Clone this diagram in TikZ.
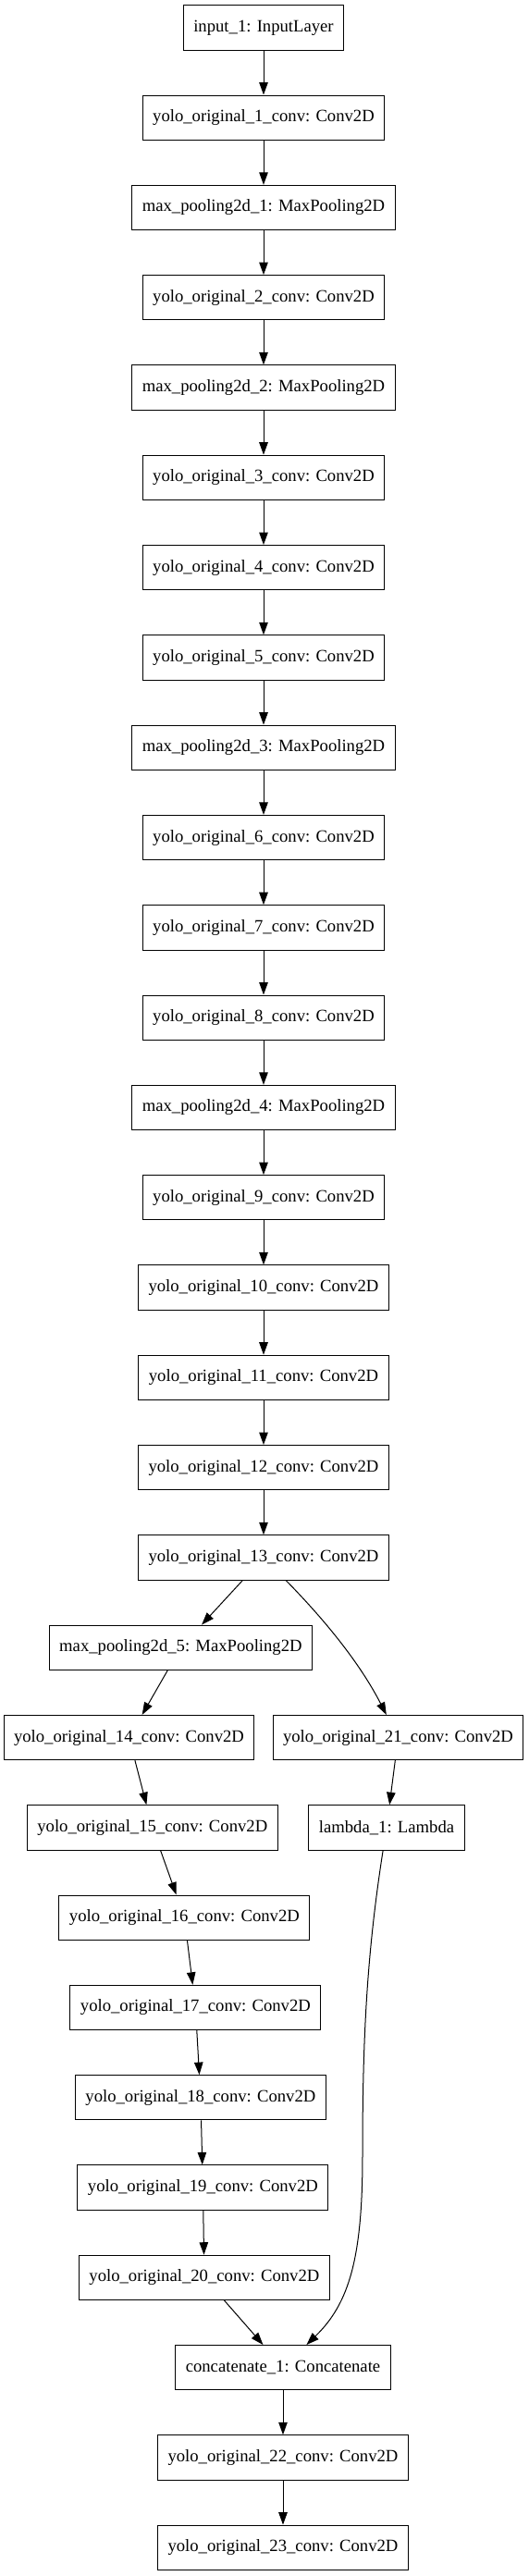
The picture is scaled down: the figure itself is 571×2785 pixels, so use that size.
\documentclass[tikz,border=0pt]{standalone}
\usepackage{fontspec}
\setmainfont{Liberation Serif}
\usepackage{tikz}
\usetikzlibrary{arrows.meta}

\tikzset{
    layer/.style = {draw, line width = 1pt, minimum height = 48.3pt,
        inner xsep = 11pt, inner ysep = 0pt,
        font = \fontsize{18.67pt}{22pt}\selectfont},
    flow/.style = {line width = 1pt,
        -{Triangle[length = 13.5pt, width = 9.5pt]}}
}

\begin{document}
\begin{tikzpicture}[x = 1pt, y = -1pt]
        \useasboundingbox (0, 0) rectangle (571, 2785);

        % main column
        \node[layer] (in1) at (285, 29.85) {input\_1: InputLayer};
        \node[layer] (y1)  at (285, 127.15) {yolo\_original\_1\_conv: Conv2D};
        \node[layer] (mp1) at (285, 224.45) {max\_pooling2d\_1: MaxPooling2D};
        \node[layer] (y2)  at (285, 321.75) {yolo\_original\_2\_conv: Conv2D};
        \node[layer] (mp2) at (285, 419.05) {max\_pooling2d\_2: MaxPooling2D};
        \node[layer] (y3)  at (285, 516.35) {yolo\_original\_3\_conv: Conv2D};
        \node[layer] (y4)  at (285, 613.65) {yolo\_original\_4\_conv: Conv2D};
        \node[layer] (y5)  at (285, 710.95) {yolo\_original\_5\_conv: Conv2D};
        \node[layer] (mp3) at (285, 808.25) {max\_pooling2d\_3: MaxPooling2D};
        \node[layer] (y6)  at (285, 905.55) {yolo\_original\_6\_conv: Conv2D};
        \node[layer] (y7)  at (285, 1002.85) {yolo\_original\_7\_conv: Conv2D};
        \node[layer] (y8)  at (285, 1100.15) {yolo\_original\_8\_conv: Conv2D};
        \node[layer] (mp4) at (285, 1197.45) {max\_pooling2d\_4: MaxPooling2D};
        \node[layer] (y9)  at (285, 1294.75) {yolo\_original\_9\_conv: Conv2D};
        \node[layer] (y10) at (285, 1392.05) {yolo\_original\_10\_conv: Conv2D};
        \node[layer] (y11) at (285, 1489.35) {yolo\_original\_11\_conv: Conv2D};
        \node[layer] (y12) at (285, 1586.65) {yolo\_original\_12\_conv: Conv2D};
        \node[layer] (y13) at (285, 1683.95) {yolo\_original\_13\_conv: Conv2D};

        % left branch
        \node[layer] (mp5) at (195.4, 1781.25) {max\_pooling2d\_5: MaxPooling2D};
        \node[layer] (y14) at (139.5, 1878.55) {yolo\_original\_14\_conv: Conv2D};
        \node[layer] (y15) at (164.8, 1975.85) {yolo\_original\_15\_conv: Conv2D};
        \node[layer] (y16) at (199.4, 2073.15) {yolo\_original\_16\_conv: Conv2D};
        \node[layer] (y17) at (211.4, 2170.45) {yolo\_original\_17\_conv: Conv2D};
        \node[layer] (y18) at (216.9, 2267.75) {yolo\_original\_18\_conv: Conv2D};
        \node[layer] (y19) at (219.4, 2365.05) {yolo\_original\_19\_conv: Conv2D};
        \node[layer] (y20) at (220.9, 2462.35) {yolo\_original\_20\_conv: Conv2D};

        % right branch
        \node[layer] (y21)  at (430.5, 1878.55) {yolo\_original\_21\_conv: Conv2D};
        \node[layer] (lam1) at (418, 1975.85) {lambda\_1: Lambda};

        % merge
        \node[layer] (cat1) at (306, 2559.65) {concatenate\_1: Concatenate};
        \node[layer] (y22)  at (306, 2656.95) {yolo\_original\_22\_conv: Conv2D};
        \node[layer] (y23)  at (306, 2754.25) {yolo\_original\_23\_conv: Conv2D};

        \draw[flow] (in1) -- (y1);
        \draw[flow] (y1) -- (mp1);
        \draw[flow] (mp1) -- (y2);
        \draw[flow] (y2) -- (mp2);
        \draw[flow] (mp2) -- (y3);
        \draw[flow] (y3) -- (y4);
        \draw[flow] (y4) -- (y5);
        \draw[flow] (y5) -- (mp3);
        \draw[flow] (mp3) -- (y6);
        \draw[flow] (y6) -- (y7);
        \draw[flow] (y7) -- (y8);
        \draw[flow] (y8) -- (mp4);
        \draw[flow] (mp4) -- (y9);
        \draw[flow] (y9) -- (y10);
        \draw[flow] (y10) -- (y11);
        \draw[flow] (y11) -- (y12);
        \draw[flow] (y12) -- (y13);

        \draw[flow] (y13) -- (mp5);
        \draw[flow] (mp5) -- (y14);
        \draw[flow] (y14) -- (y15);
        \draw[flow] (y15) -- (y16);
        \draw[flow] (y16) -- (y17);
        \draw[flow] (y17) -- (y18);
        \draw[flow] (y18) -- (y19);
        \draw[flow] (y19) -- (y20);
        \draw[flow] (y20) -- (cat1);

        \draw[flow] (y13) .. controls (340, 1740) and (385, 1790) .. (y21);
        \draw[flow] (y21) -- (lam1);
        \coordinate (lamdrop) at (392, 2330);
        \draw[flow] (lam1) .. controls (397, 2110) and (392, 2200) .. (lamdrop)
            .. controls (392, 2440) and (378, 2490) .. ([xshift = 25.4pt]cat1.north);

        \draw[flow] (cat1) -- (y22);
        \draw[flow] (y22) -- (y23);
    \end{tikzpicture}
\end{document}
